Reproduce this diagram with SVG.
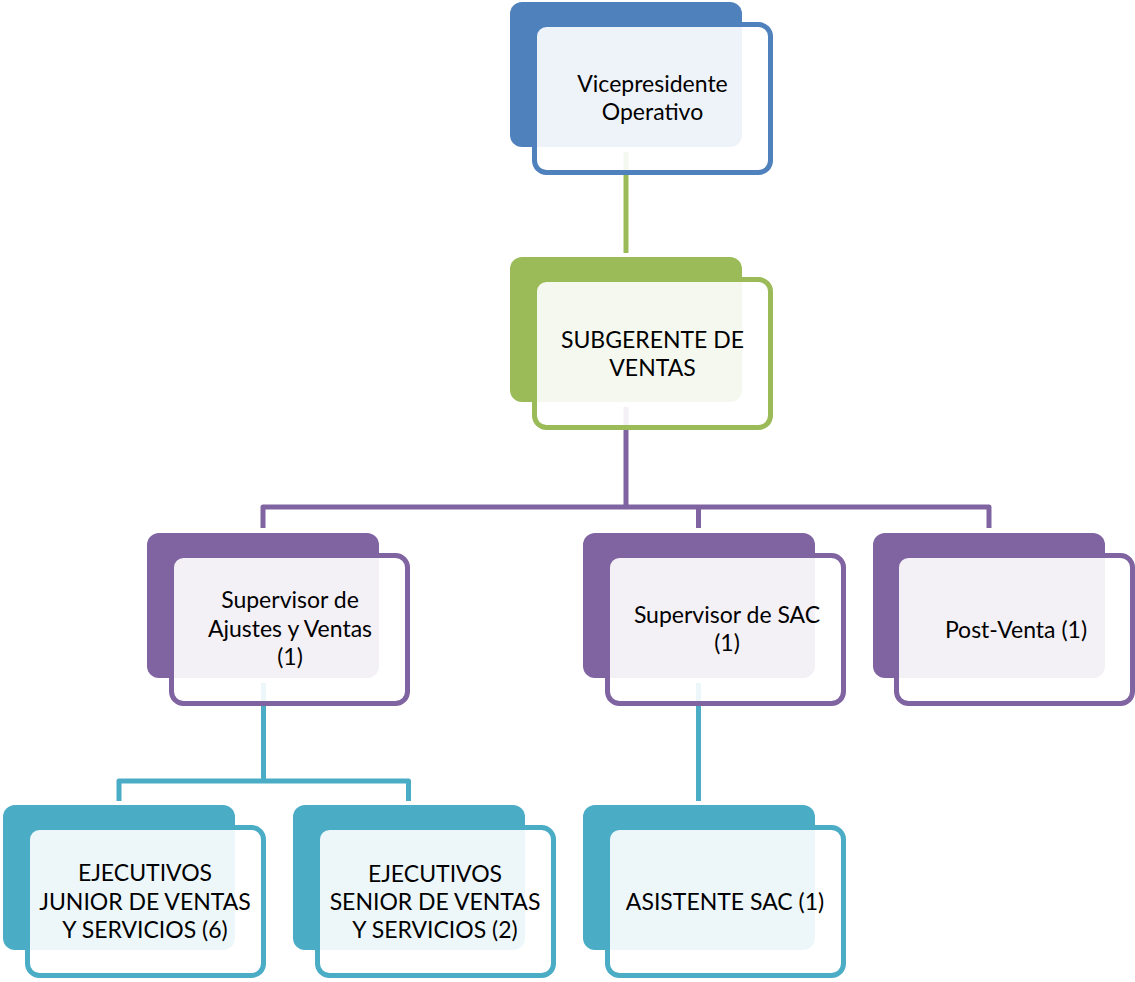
<svg xmlns="http://www.w3.org/2000/svg" width="1135" height="982" viewBox="0 0 1135 982">
<style>
.back{stroke:none}
.front{fill:#ffffff;fill-opacity:0.9;stroke-width:5}
.conn{fill:none;stroke-width:5;stroke-linejoin:round}
text{font-family:Lato,"Open Sans","Liberation Sans",sans-serif;font-size:23px;fill:#000;text-anchor:middle}
.blue .back{fill:#4F81BD}.blue .front{stroke:#4F81BD}
.green .back{fill:#9BBB59}.green .front{stroke:#9BBB59}
.purple .back{fill:#8064A2}.purple .front{stroke:#8064A2}
.teal .back{fill:#4BACC6}.teal .front{stroke:#4BACC6}
</style>
<rect width="1135" height="982" fill="#ffffff"/>
<g id="connectors">
<path class="conn" stroke="#9BBB59" d="M626 152V253"/>
<path class="conn" stroke="#8064A2" d="M626 407V507M263 528V507H989V528M698.5 507V528"/>
<path class="conn" stroke="#4BACC6" d="M263.5 683V781M119 801V781H408.5V801M698.5 683V801"/>
</g>
<g id="n1" class="blue">
<rect class="back" x="510" y="2" width="232" height="145" rx="12"/>
<rect class="front" x="534.5" y="24.5" width="236" height="148" rx="12"/>
<text x="652.5" y="92">Vicepresidente</text>
<text x="652.5" y="120">Operativo</text>
</g>
<g id="n2" class="green">
<rect class="back" x="510" y="257" width="232" height="145" rx="12"/>
<rect class="front" x="534.5" y="279.5" width="236" height="148" rx="12"/>
<text x="652.5" y="348">SUBGERENTE DE</text>
<text x="652.5" y="376">VENTAS</text>
</g>
<g id="n3" class="purple">
<rect class="back" x="147" y="533" width="232" height="145" rx="12"/>
<rect class="front" x="171.5" y="555.5" width="236" height="148" rx="12"/>
<text x="290" y="608">Supervisor de</text>
<text x="290" y="637">Ajustes y Ventas</text>
<text x="290" y="665">(1)</text>
</g>
<g id="n_sac" class="purple">
<rect class="back" x="583" y="533" width="232" height="145" rx="12"/>
<rect class="front" x="607.5" y="555.5" width="236" height="148" rx="12"/>
<text x="727" y="623">Supervisor de SAC</text>
<text x="727" y="651">(1)</text>
</g>
<g id="n_pv" class="purple">
<rect class="back" x="873" y="533" width="232" height="145" rx="12"/>
<rect class="front" x="896.5" y="555.5" width="236" height="148" rx="12"/>
<text x="1016" y="638">Post-Venta (1)</text>
</g>
<g id="n4" class="teal">
<rect class="back" x="3" y="805" width="232" height="145" rx="12"/>
<rect class="front" x="27.5" y="827.5" width="236" height="148" rx="12"/>
<text x="145" y="881">EJECUTIVOS</text>
<text x="145" y="910">JUNIOR DE VENTAS</text>
<text x="145" y="938">Y SERVICIOS (6)</text>
</g>
<g id="n5" class="teal">
<rect class="back" x="293" y="805" width="232" height="145" rx="12"/>
<rect class="front" x="317.5" y="827.5" width="236" height="148" rx="12"/>
<text x="435" y="882">EJECUTIVOS</text>
<text x="435" y="910">SENIOR DE VENTAS</text>
<text x="435" y="938">Y SERVICIOS (2)</text>
</g>
<g id="n6" class="teal">
<rect class="back" x="583" y="805" width="232" height="145" rx="12"/>
<rect class="front" x="607.5" y="827.5" width="236" height="148" rx="12"/>
<text x="725" y="910">ASISTENTE SAC (1)</text>
</g>
</svg>
